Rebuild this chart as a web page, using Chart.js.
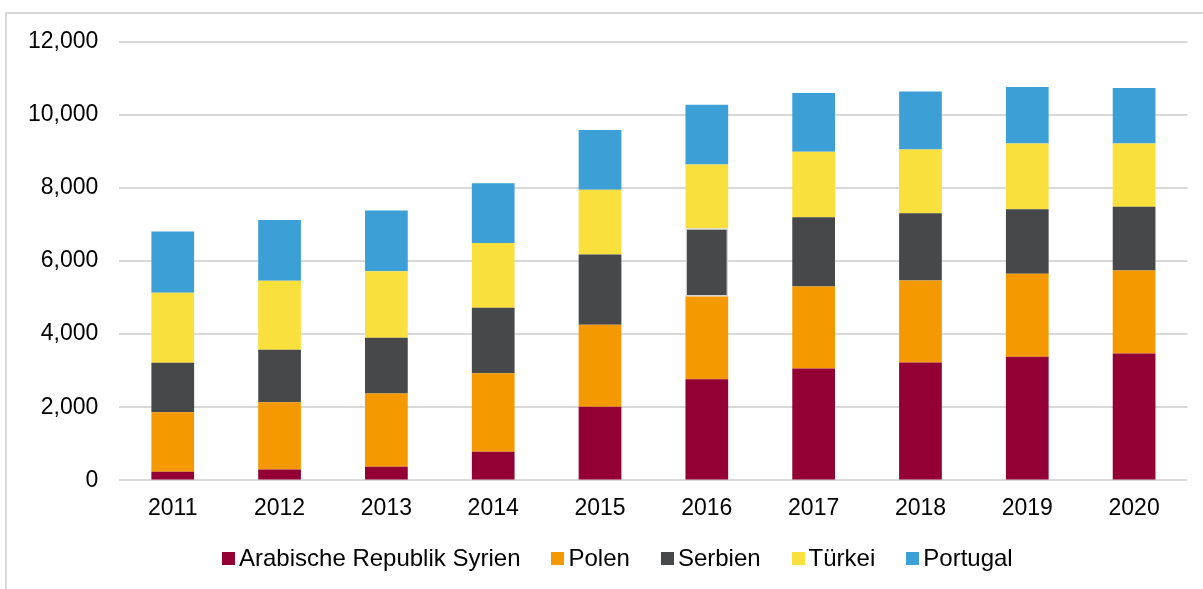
<!DOCTYPE html>
<html>
<head>
<meta charset="utf-8">
<script src="https://cdn.jsdelivr.net/npm/chart.js@4/dist/chart.umd.min.js"></script>
<style>
  html, body { margin: 0; padding: 0; background: #fff; }
  #wrap { position: relative; width: 1203px; height: 589px; overflow: hidden; font-family: "Liberation Sans", Arial, sans-serif; }
  #frame { position: absolute; left: 5px; top: 12px; width: 1300px; height: 700px; border-left: 2px solid #d9d9d9; border-top: 2px solid #d9d9d9; }
  canvas { position: absolute; left: 0; top: 0; }
  #legend { position: absolute; left: 222px; top: 544px; display: flex; align-items: center; gap: 31px; font-size: 24px; color: #000; white-space: nowrap; }
  .item { display: flex; align-items: center; }
  .box { width: 13px; height: 13px; margin-right: 4px; }
</style>
</head>
<body>
<div id="wrap">
  <div id="frame"></div>
  <canvas id="c" width="1203" height="589"></canvas>
  <div id="legend"></div>
</div>
<script>
const categories = ['2011', '2012', '2013', '2014', '2015', '2016', '2017', '2018', '2019', '2020'];
const seriesNames = ['Arabische Republik Syrien', 'Polen', 'Serbien', 'Türkei', 'Portugal'];
const syrien   = [236, 301, 373, 784, 2016, 2767, 3058, 3222, 3378, 3468];
const polen    = [1627, 1836, 2000, 2148, 2239, 2263, 2246, 2246, 2274, 2274];
const serbien  = [1351, 1433, 1526, 1789, 1918, 1863, 1891, 1836, 1762, 1737];
const tuerkei  = [1916, 1890, 1816, 1772, 1772, 1745, 1791, 1745, 1800, 1735];
const portugal = [1673, 1663, 1663, 1633, 1633, 1636, 1606, 1581, 1542, 1515];
const yTicks = [0, 2000, 4000, 6000, 8000, 10000, 12000];

const colors = ['#930033', '#F49A00', '#47484A', '#F9E03C', '#3CA0D7'];
const values = [syrien, polen, serbien, tuerkei, portugal];

const datasets = values.map((v, i) => ({
  label: seriesNames[i],
  data: v,
  backgroundColor: colors[i],
  borderWidth: i === 2 ? categories.map((c) => c === '2016' ? 1.5 : 0) : 0,
  borderColor: '#d4d4d4',
  borderSkipped: false,
  barPercentage: 0.4,
  categoryPercentage: 1.0
}));

new Chart(document.getElementById('c'), {
  type: 'bar',
  data: { labels: categories, datasets },
  options: {
    responsive: false,
    animation: false,
    layout: { padding: { left: 7, right: 15.5, top: 41.5, bottom: 53 } },
    plugins: { legend: { display: false }, tooltip: { enabled: false } },
    scales: {
      x: {
        stacked: true,
        grid: { display: false, drawTicks: false },
        border: { display: false },
        ticks: { color: '#000', font: { family: 'Liberation Sans', size: 23 }, padding: 14 }
      },
      y: {
        stacked: true,
        min: yTicks[0],
        max: yTicks[yTicks.length - 1],
        afterBuildTicks: (axis) => { axis.ticks = yTicks.map(v => ({ value: v })); },
        grid: { color: '#d9d9d9', lineWidth: 2, drawTicks: false },
        border: { display: false },
        ticks: {
          color: '#000',
          font: { family: 'Liberation Sans', size: 23 },
          padding: 21,
          callback: (v) => Number(v).toLocaleString('en-US')
        }
      }
    }
  }
});

const legend = document.getElementById('legend');
seriesNames.forEach((n, i) => {
  const it = document.createElement('div');
  it.className = 'item';
  const b = document.createElement('span');
  b.className = 'box';
  b.style.background = colors[i];
  const t = document.createElement('span');
  t.textContent = n;
  it.appendChild(b); it.appendChild(t);
  legend.appendChild(it);
});
</script>
</body>
</html>
